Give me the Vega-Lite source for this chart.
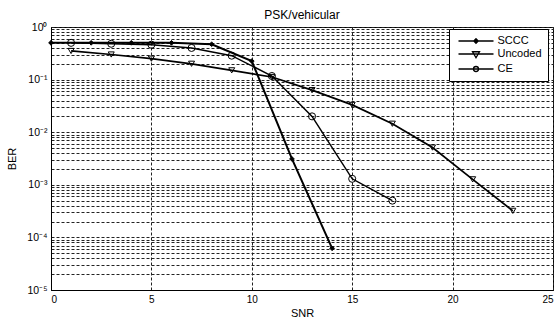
{
  "$schema": "https://vega.github.io/schema/vega-lite/v6.json",
  "width": 502,
  "height": 263,
  "autosize": {"type": "none"},
  "padding": {"left": 51, "top": 27, "right": 5, "bottom": 30},
  "background": "white",
  "title": {"text": "PSK/vehicular", "fontSize": 12, "font": "Liberation Sans", "fontWeight": "normal", "color": "black", "offset": 0},
  "config": {
    "view": {"stroke": "black", "strokeWidth": 1},
    "font": "Liberation Sans",
    "axis": {
      "labelFont": "Liberation Sans", "labelFontSize": 10, "labelColor": "black",
      "titleFont": "Liberation Sans", "titleFontSize": 11, "titleFontWeight": "normal", "titleColor": "black",
      "domainColor": "black", "ticks": false,
      "grid": true, "gridColor": "#222", "gridDash": [3, 2], "gridOpacity": 1, "gridWidth": 1
    }
  },
  "data": {
    "values": [
      {"series": "SCCC", "snr": 0, "ber": 0.5},
      {"series": "SCCC", "snr": 2, "ber": 0.5},
      {"series": "SCCC", "snr": 4, "ber": 0.5},
      {"series": "SCCC", "snr": 6, "ber": 0.5},
      {"series": "SCCC", "snr": 8, "ber": 0.47},
      {"series": "SCCC", "snr": 10, "ber": 0.225},
      {"series": "SCCC", "snr": 12, "ber": 0.0031},
      {"series": "SCCC", "snr": 14, "ber": 0.000062},
      {"series": "Uncoded", "snr": 1, "ber": 0.35},
      {"series": "Uncoded", "snr": 3, "ber": 0.30},
      {"series": "Uncoded", "snr": 5, "ber": 0.25},
      {"series": "Uncoded", "snr": 7, "ber": 0.20},
      {"series": "Uncoded", "snr": 9, "ber": 0.15},
      {"series": "Uncoded", "snr": 11, "ber": 0.112},
      {"series": "Uncoded", "snr": 13, "ber": 0.063},
      {"series": "Uncoded", "snr": 15, "ber": 0.033},
      {"series": "Uncoded", "snr": 17, "ber": 0.0145},
      {"series": "Uncoded", "snr": 19, "ber": 0.0051},
      {"series": "Uncoded", "snr": 21, "ber": 0.00127},
      {"series": "Uncoded", "snr": 23, "ber": 0.00032},
      {"series": "CE", "snr": 1, "ber": 0.5},
      {"series": "CE", "snr": 3, "ber": 0.48},
      {"series": "CE", "snr": 5, "ber": 0.46},
      {"series": "CE", "snr": 7, "ber": 0.40},
      {"series": "CE", "snr": 9, "ber": 0.285},
      {"series": "CE", "snr": 11, "ber": 0.117},
      {"series": "CE", "snr": 13, "ber": 0.02},
      {"series": "CE", "snr": 15, "ber": 0.0013},
      {"series": "CE", "snr": 17, "ber": 0.0005}
    ]
  },
  "encoding": {
    "x": {
      "field": "snr", "type": "quantitative",
      "scale": {"domain": [0, 25], "nice": false, "zero": false},
      "axis": {"values": [0, 5, 10, 15, 20, 25], "title": "SNR", "labelPadding": 4, "titlePadding": 3}
    },
    "y": {
      "field": "ber", "type": "quantitative",
      "scale": {"type": "log", "domain": [0.00001, 1], "nice": false},
      "axis": {
        "values": [0.00001, 0.00002, 0.00003, 0.00004, 0.00005, 0.00006, 0.00007, 0.00008, 0.00009,
                   0.0001, 0.0002, 0.0003, 0.0004, 0.0005, 0.0006, 0.0007, 0.0008, 0.0009,
                   0.001, 0.002, 0.003, 0.004, 0.005, 0.006, 0.007, 0.008, 0.009,
                   0.01, 0.02, 0.03, 0.04, 0.05, 0.06, 0.07, 0.08, 0.09,
                   0.1, 0.2, 0.3, 0.4, 0.5, 0.6, 0.7, 0.8, 0.9, 1],
        "labelExpr": "abs(log(datum.value)/LN10 - round(log(datum.value)/LN10)) < 0.000001 ? '10' + ['⁰','⁻¹','⁻²','⁻³','⁻⁴','⁻⁵'][round(-log(datum.value)/LN10)] : ''",
        "title": "BER", "labelPadding": 4, "labelFontSize": 10.5, "titlePadding": 9
      }
    }
  },
  "layer": [
    {
      "mark": {"type": "line", "color": "black"},
      "encoding": {
        "detail": {"field": "series"},
        "strokeWidth": {"field": "series", "type": "nominal", "scale": {"domain": ["SCCC", "Uncoded", "CE"], "range": [2, 1.5, 1]}, "legend": null}
      }
    },
    {
      "mark": {"type": "point", "filled": true, "stroke": "black", "strokeWidth": 1, "opacity": 1},
      "encoding": {
        "shape": {"field": "series", "type": "nominal", "scale": {"domain": ["SCCC", "Uncoded", "CE"], "range": ["diamond", "triangle-down", "circle"]}, "legend": null},
        "fill": {"field": "series", "type": "nominal", "scale": {"domain": ["SCCC", "Uncoded", "CE"], "range": ["black", "transparent", "transparent"]}, "legend": null},
        "size": {"field": "series", "type": "nominal", "scale": {"domain": ["SCCC", "Uncoded", "CE"], "range": [22, 50, 36]}, "legend": null}
      }
    },
    {
      "mark": {"type": "point", "opacity": 0, "stroke": "black", "size": 100},
      "encoding": {
        "shape": {
          "field": "series", "type": "nominal",
          "scale": {"domain": ["SCCC", "Uncoded", "CE"], "range": [
            "M-3.5,0H3.5M0,-0.45L0.45,0L0,0.45L-0.45,0Z M0,-0.25L0.25,0L0,0.25L-0.25,0Z",
            "M-3.5,0H3.5M-0.7,-0.45L0.7,-0.45L0,0.75Z",
            "M-3.5,0H3.5M0.5,0A0.5,0.5,0,1,1,-0.5,0A0.5,0.5,0,1,1,0.5,0Z"
          ]},
          "legend": {
            "title": null, "orient": "none", "legendX": 398, "legendY": 2,
            "strokeColor": "black", "fillColor": "white", "padding": 6,
            "symbolSize": 100, "symbolOpacity": 1, "symbolStrokeColor": "black", "symbolStrokeWidth": 1.3,
            "symbolFillColor": "transparent", "symbolOffset": 15,
            "labelFontSize": 11, "labelFont": "Liberation Sans", "labelColor": "black", "labelOffset": 15.5,
            "rowPadding": 2
          }
        }
      }
    }
  ],
  "resolve": {"scale": {"shape": "independent"}}
}
